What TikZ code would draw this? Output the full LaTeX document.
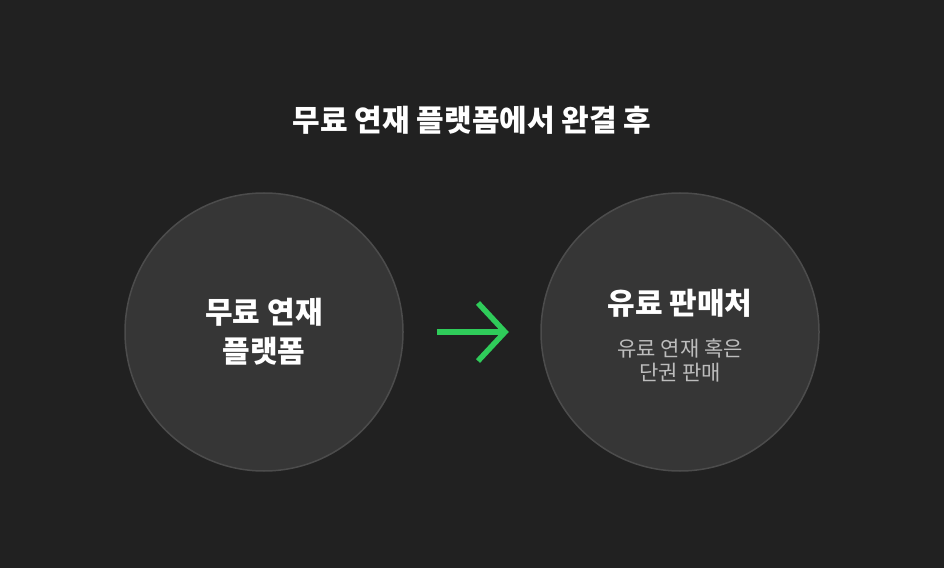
\documentclass[tikz,border=0pt]{standalone}
\usepackage{fontspec}
\newfontfamily\cjk{Noto Sans CJK KR}
\definecolor{bg}{HTML}{212121}
\definecolor{circ}{HTML}{363636}
\definecolor{circline}{HTML}{4C4C4C}
\definecolor{grn}{HTML}{2FCC5A}
\definecolor{sub}{HTML}{BDBDBD}
\begin{document}
\begin{tikzpicture}[x=1pt,y=1pt,
  bubble/.style={circle,fill=circ,draw=circline,line width=1.5pt,minimum size=278pt,inner sep=0pt},
  big/.style={text=white,font=\cjk\bfseries\fontsize{30}{39}\selectfont,align=center},
  small/.style={text=sub,font=\cjk\fontsize{21}{24}\selectfont,align=center}]
\fill[bg] (0,0) rectangle (944,568);
\useasboundingbox (0,0) rectangle (944,568);
\node[text=white,font=\cjk\bfseries\fontsize{30}{34}\selectfont] (title) at (472,448) {무료 연재 플랫폼에서 완결 후};
\node[bubble] (l) at (264,236) {};
\node[bubble] (r) at (680,236) {};
\node[big] (lt) at (264,236) {무료 연재\\플랫폼};
\node[big] (rt) at (680,265) {유료 판매처};
\node[small] (rs) at (680,208) {유료 연재 혹은\\단권 판매};
\coordinate (a1) at (437,236);
\coordinate (a2) at (505,236);
\draw[grn,line width=5.5pt] (a1) -- (a2);
\draw[grn,line width=5.5pt,line join=miter] (478,265) -- (a2) -- (478,207);
\end{tikzpicture}
\end{document}
